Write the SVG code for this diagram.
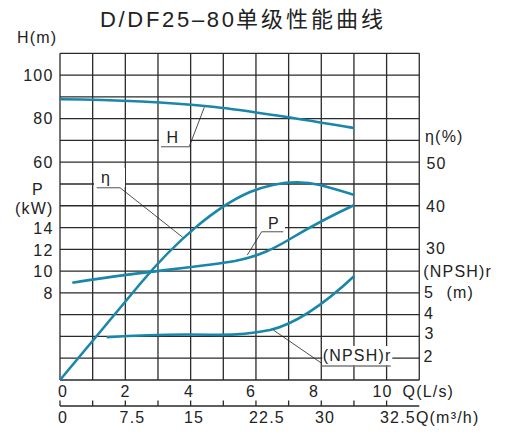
<svg xmlns="http://www.w3.org/2000/svg" width="507" height="432" viewBox="0 0 507 432">
<style>
text{font-family:"Liberation Sans","Noto Sans CJK SC",sans-serif;fill:#222;font-size:16px;letter-spacing:1.2px}
text.t{font-size:22px;letter-spacing:0}
.g{stroke:#2b2b2b;stroke-width:1.3;fill:none}
.c{stroke:#1a87aa;stroke-width:2.6;fill:none}
.ld{stroke:#222;stroke-width:0.8;fill:none}
.ul{stroke:#7a7a7a;stroke-width:1.3;fill:none}
.bg{fill:#fff}
.e{text-anchor:end}
.m{text-anchor:middle}
</style>
<rect width="507" height="432" fill="#fff"/>
<g id="title">
<text class="t" x="100" y="26.7" textLength="134" lengthAdjust="spacing">D/DF25–80</text>
<text class="t" x="236" y="26.7" textLength="147" lengthAdjust="spacing">单级性能曲线</text>
</g>
<g id="grid" class="g">
<path d="M60,53.3V380M92.66,53.3V380M125.32,53.3V380M157.98,53.3V380M190.64,53.3V380M223.3,53.3V380M255.96,53.3V380M288.62,53.3V380M321.28,53.3V380M353.94,53.3V380M386.6,53.3V380M419.26,53.3V380"/>
<path d="M60,53.3H419.26M60,75.08H419.26M60,96.86H419.26M60,118.64H419.26M60,140.42H419.26M60,162.2H419.26M60,183.98H419.26M60,205.76H419.26M60,227.54H419.26M60,249.32H419.26M60,271.1H419.26M60,292.88H419.26M60,314.66H419.26M60,336.44H419.26M60,358.22H419.26M60,380H419.26"/>
<path d="M60,406H419.26M60,400.5V406M92.66,400.5V406M125.32,400.5V406M157.98,400.5V406M190.64,400.5V406M223.3,400.5V406M255.96,400.5V406M288.62,400.5V406M321.28,400.5V406M353.94,400.5V406M386.6,400.5V406"/>
</g>
<g id="left-axis">
<text x="17" y="43">H(m)</text>
<text class="e" x="53.5" y="81">100</text>
<text class="e" x="53.5" y="124.4">80</text>
<text class="e" x="53.5" y="168.4">60</text>
<text class="m" x="38" y="195">P</text>
<text class="e" x="53.5" y="214">(kW)</text>
<text class="e" x="53.5" y="233.8">14</text>
<text class="e" x="53.5" y="255.5">12</text>
<text class="e" x="53.5" y="277">10</text>
<text class="e" x="53.5" y="299">8</text>
</g>
<g id="right-axis">
<text x="425" y="142">η(%)</text>
<text x="426.5" y="168.5">50</text>
<text x="426" y="211.7">40</text>
<text x="426" y="254">30</text>
<text x="423.3" y="277.3">(NPSH)r</text>
<text x="424" y="297.5">5</text>
<text x="446.5" y="297.5">(m)</text>
<text x="424" y="318.5">4</text>
<text x="424.5" y="339">3</text>
<text x="423.5" y="362">2</text>
</g>
<g id="bottom-axis">
<text class="m" x="63" y="396.5">0</text>
<text class="m" x="125.5" y="396.5">2</text>
<text class="m" x="189" y="396.5">4</text>
<text class="m" x="251" y="396.5">6</text>
<text class="m" x="314" y="396.5">8</text>
<text class="m" x="382.5" y="396.5">10</text>
<text x="402.5" y="396.5">Q(L/s)</text>
<text class="m" x="63" y="423.3">0</text>
<text class="m" x="132.5" y="423.3">7.5</text>
<text class="m" x="194" y="423.3">15</text>
<text class="m" x="267" y="423.3">22.5</text>
<text class="m" x="325" y="423.3">30</text>
<text x="380" y="423.3">32.5Q(m³/h)</text>
</g>
<g id="curve-H">
<path class="c" d="M60,99.3C120,100 170,102.5 210,106.5S300,119 354,128"/>
<rect class="bg" x="159" y="128" width="31" height="18"/>
<text x="166.5" y="143.3">H</text>
</g>
<g id="curve-eta">
<path class="c" d="M60,380L140,284C175,242 215,207 250,192C275,182 300,180 320,185C335,189 345,192 354.3,195"/>
<rect class="bg" x="94" y="168" width="31" height="19"/>
<text x="101" y="182.7">η</text>
</g>
<g id="curve-P">
<path class="c" d="M72.3,282.7C130,273 200,267 235,261C260,256 275,248 290,239C315,224 335,214 354.3,205"/>
<rect class="bg" x="257" y="214" width="28" height="17"/>
<text x="268" y="229.3">P</text>
</g>
<g id="curve-NPSH">
<path class="c" d="M106.7,337.3C150,334.5 180,334 210,334.8C235,335.5 255,333 270,330C292,325 320,308 354.3,276"/>
<rect class="bg" x="322.3" y="346" width="70" height="19"/>
<text x="322.7" y="361">(NPSH)r</text>
</g>
<g id="connectors">
<path class="ld" d="M204.3,107.3L189.3,146.5"/>
<path class="ul" d="M161,146.7H190"/>
<path class="ld" d="M120,187.7L182.7,237.3"/>
<path class="ul" d="M96.7,187.7H120"/>
<path class="ld" d="M247.3,255L261.7,231.7"/>
<path class="ul" d="M261.7,231.7H283.3"/>
<path class="ld" d="M273.3,330L321.7,363.3"/>
<path class="ul" d="M321.7,366H390.7"/>
</g>
</svg>
